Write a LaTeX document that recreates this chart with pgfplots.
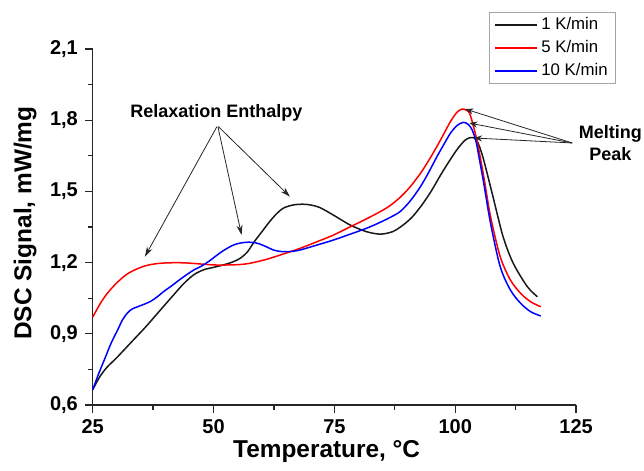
\documentclass[border=0pt]{standalone}
\usepackage{fontspec}
\setmainfont{Liberation Sans}
\usepackage{pgfplots}
\pgfplotsset{compat=1.18}
\usetikzlibrary{arrows.meta}

\begin{document}
\begin{tikzpicture}
\begin{axis}[
  scale only axis, width=241.7pt, height=178pt,
  xmin=25, xmax=125, ymin=0.6, ymax=2.1,
  xtick={25,50,75,100,125},
  ytick={0.6,0.9,1.2,1.5,1.8,2.1},
  minor x tick num=1, minor y tick num=1,
  axis x line*=bottom, axis y line*=left,
  axis line style={line width=0.65pt, -, black!85},
  tick align=outside,
  major tick length=3.9pt, minor tick length=2.3pt,
  every tick/.style={black!85, line width=0.65pt},
  ticklabel style={font=\bfseries\fontsize{10}{12}\selectfont},
  /pgf/number format/assume math mode=true,
  yticklabel style={/pgf/number format/.cd, fixed, fixed zerofill, precision=1, use comma},
  xticklabel style={/pgf/number format/.cd, fixed, precision=0},
  xlabel={Temperature, °C},
  ylabel={DSC Signal, mW/mg},
  every axis x label/.style={at={(axis description cs:0.484,-0.147)}, anchor=base, font=\bfseries\fontsize{12.2}{14}\selectfont},
  every axis y label/.style={at={(axis description cs:-0.127,0.511)}, anchor=base, rotate=90, font=\bfseries\fontsize{12.2}{14}\selectfont},
  legend style={at={(axis description cs:0.8206,1.1048)}, anchor=north west, draw=gray!70, line width=0.5pt,
    font=\fontsize{8.4}{10}\selectfont, inner xsep=2pt, inner ysep=0.5pt, cells={anchor=west}},
  legend image code/.code={\draw[#1, line width=0.75pt] (0pt,0pt) -- (21pt,0pt);},
  clip=false,
]
\addplot[black!90, line width=0.75pt, smooth, tension=0.5] coordinates {
(25,0.664) (26.5,0.72) (28,0.76) (30,0.80) (33,0.865) (36,0.93) (39,1.0) (42,1.07) (44,1.115) (46,1.15) (48,1.17) (50,1.18) (52,1.19) (54,1.203) (55.5,1.218) (57,1.245) (58.5,1.29) (60,1.33) (61.5,1.37) (63,1.405) (64.5,1.43) (66.5,1.443) (68.5,1.446) (70,1.443) (72,1.432) (74.8,1.40) (78.3,1.358) (81.7,1.33) (84.5,1.32) (87,1.33) (89,1.355) (91,1.39) (93,1.44) (95,1.50) (97,1.57) (99,1.635) (100.5,1.68) (102,1.715) (103.2,1.727) (104.4,1.717) (105.7,1.646) (107.8,1.478) (109.9,1.309) (112.0,1.197) (114.9,1.099) (117.0,1.056)
};
\addlegendentry{1 K/min}
\addplot[red, line width=0.75pt, smooth, tension=0.5] coordinates {
(25,0.97) (26.5,1.025) (28,1.07) (30,1.115) (32,1.15) (34,1.172) (36,1.187) (38,1.195) (40.5,1.199) (44,1.199) (47.4,1.194) (50.2,1.19) (53,1.19) (55.5,1.192) (57.5,1.197) (61,1.214) (64.4,1.236) (67.9,1.26) (71.4,1.288) (74.8,1.316) (78.3,1.351) (81.7,1.385) (84.5,1.415) (86.5,1.44) (88.6,1.475) (90.7,1.52) (92.8,1.576) (94.5,1.63) (96.2,1.689) (97.7,1.745) (99.0,1.794) (100.3,1.832) (101.4,1.847) (102.3,1.842) (103.1,1.822) (104.5,1.713) (105.9,1.562) (107.3,1.394) (109.3,1.225) (111.4,1.127) (113.5,1.071) (115.6,1.035) (117.7,1.014)
};
\addlegendentry{5 K/min}
\addplot[blue, line width=0.75pt, smooth, tension=0.5] coordinates {
(25,0.664) (26.2,0.73) (27.4,0.79) (28.8,0.86) (30.2,0.918) (31.2,0.96) (32.2,0.988) (33.2,1.005) (34.3,1.014) (35.7,1.025) (37.1,1.038) (38.5,1.058) (39.8,1.08) (41.2,1.10) (42.6,1.122) (44.3,1.147) (46,1.17) (47.5,1.185) (49,1.205) (50.5,1.228) (52,1.25) (54.1,1.274) (55.7,1.283) (57.2,1.286) (58.5,1.284) (59.6,1.278) (61,1.266) (62.4,1.253) (63.8,1.247) (65.1,1.246) (66.5,1.248) (67.9,1.253) (71.4,1.274) (74.8,1.295) (78.3,1.32) (81.7,1.345) (84.5,1.37) (86.5,1.39) (88.6,1.415) (90.7,1.46) (92.8,1.52) (94.5,1.58) (96.2,1.646) (97.7,1.70) (99.0,1.745) (100.4,1.778) (101.7,1.791) (102.7,1.782) (103.5,1.759) (104.3,1.71) (104.9,1.646) (105.9,1.534) (107.3,1.366) (109.3,1.183) (111.4,1.085) (113.5,1.029) (115.6,0.993) (117.7,0.975)
};
\addlegendentry{10 K/min}

\coordinate (O) at (axis cs:25,0.6);

\node[font=\bfseries\fontsize{9}{11}\selectfont] at (axis cs:50.6,1.83) {Relaxation Enthalpy};
\draw[black!85, line width=0.4pt, -{Stealth[length=5pt,width=3pt]}] (axis cs:50.7,1.773) -- (axis cs:35.8,1.225);
\draw[black!85, line width=0.4pt, -{Stealth[length=5pt,width=3pt]}] (axis cs:50.9,1.773) -- (axis cs:55.8,1.316);
\draw[black!85, line width=0.4pt, -{Stealth[length=5pt,width=3pt]}] (axis cs:51.0,1.773) -- (axis cs:65.8,1.478);

\node[font=\bfseries\fontsize{9}{11}\selectfont, align=center] at (axis cs:132.1,1.704) {Melting\\Peak};
\draw[black!85, line width=0.4pt, -{Stealth[length=4pt,width=3pt]}] (axis cs:124.2,1.704) -- (axis cs:102.1,1.847);
\draw[black!85, line width=0.4pt, -{Stealth[length=4pt,width=3pt]}] (axis cs:124.2,1.704) -- (axis cs:102.9,1.788);
\draw[black!85, line width=0.4pt, -{Stealth[length=4pt,width=3pt]}] (axis cs:124.2,1.704) -- (axis cs:103.9,1.725);
\end{axis}
\pgfresetboundingbox
\path[use as bounding box] (O) ++(-46.35pt,-33pt) rectangle ++(322pt,235.5pt);
\end{tikzpicture}
\end{document}
